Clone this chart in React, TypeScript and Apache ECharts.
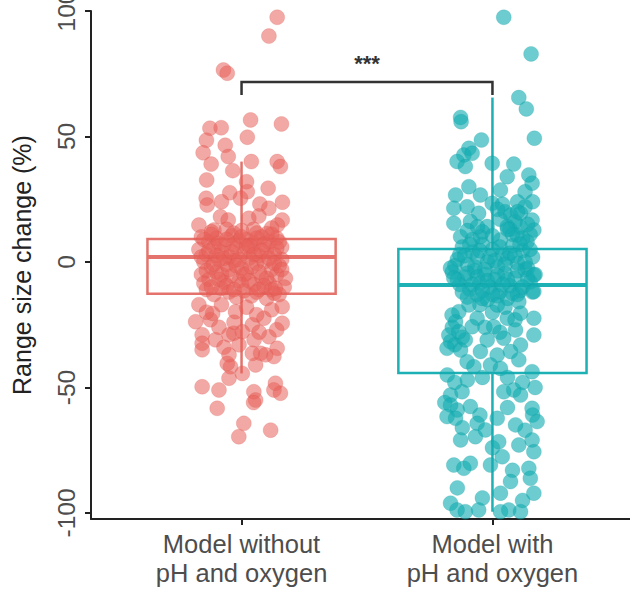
import React, { useEffect, useRef } from "react";
import * as echarts from "echarts";

const CATEGORY_LABELS = ["Model without\npH and oxygen", "Model with\npH and oxygen"];
const CATEGORY_X = [1, 2];
const Y_TICKS = [-100, -50, 0, 50, 100];

// box stats: [lower whisker, Q1, median, Q3, upper whisker]
const RED_BOX = [-44.4, -12.7, 2, 9.2, 40];
const TEAL_BOX = [-99.5, -44.2, -9.2, 5.2, 65.5];

// significance bracket: [x1, x2, top, drop]
const BRACKET = [1, 2, 71.7, 66.5];
const SIG_LABEL = "***";

// jittered points [x (jittered category position), value]
const RED_POINTS: [number, number][] = [
  [1.142, 97.5], [1.109, 90.0], [0.928, 76.5], [0.943, 75.2], [1.036, 56.6], [1.159, 55.0],
  [0.874, 53.3], [0.919, 53.5], [0.860, 48.5], [1.023, 49.7], [0.935, 46.5], [0.847, 43.5],
  [0.947, 42.0], [0.879, 39.0], [1.039, 40.0], [1.142, 40.0], [1.155, 38.0], [0.965, 36.4],
  [0.861, 32.7], [1.020, 32.0], [1.106, 29.4], [1.023, 28.0], [0.953, 27.6], [0.859, 25.4],
  [1.163, 23.8], [0.863, 22.7], [0.920, 24.0], [0.996, 25.4], [1.073, 23.1], [1.109, 21.4],
  [0.916, 18.0], [1.029, 17.4], [0.947, 16.7], [1.069, 18.3], [1.162, 16.7], [0.830, 14.7],
  [1.143, 14.7], [0.890, 12.7], [1.048, 13.0], [0.968, 11.5], [1.102, 11.4],
  [0.84, 10], [0.87, 8], [0.90, 9.5], [0.93, 7], [0.96, 10.5], [0.99, 8.5], [1.02, 9], [1.05, 7.5],
  [1.08, 10], [1.11, 8], [1.14, 9.5], [1.16, 6], [0.83, 5], [0.86, 3], [0.89, 6], [0.92, 4],
  [0.95, 2], [0.98, 5.5], [1.01, 3.5], [1.04, 6], [1.07, 2.5], [1.10, 5], [1.13, 3], [1.16, 1],
  [0.85, 0], [0.88, -2], [0.91, 1], [0.94, -1], [0.97, 0.5], [1.00, -2.5], [1.03, 1.5], [1.06, -0.5],
  [1.09, 0], [1.12, -3], [1.15, -1.5], [0.84, -5], [0.87, -7], [0.90, -4], [0.93, -8], [0.96, -5.5],
  [0.99, -7.5], [1.02, -4.5], [1.05, -9], [1.08, -6], [1.11, -8.5], [1.14, -5], [0.86, -11],
  [0.89, -13], [0.92, -10.5], [0.95, -12], [0.98, -14], [1.01, -11.5], [1.04, -13.5], [1.07, -11],
  [1.10, -14.5], [1.13, -12.5], [1.17, -10], [0.88, 12], [0.94, 13], [1.00, 12.5], [1.06, 11.5],
  [1.12, 13.5],
  [0.85, 9], [0.88, 11], [0.91, 7.5], [0.94, 9], [0.97, 7], [1.00, 10], [1.03, 6.5], [1.06, 9.5],
  [1.09, 7], [1.12, 11], [1.15, 8], [0.84, 2], [0.87, 4.5], [0.90, 2.5], [0.93, 1.5], [0.96, 4],
  [0.99, 1], [1.02, 6], [1.05, 3], [1.08, 4.5], [1.11, 1.5], [1.14, 5.5], [0.86, -3.5], [0.89, -1],
  [0.92, -5], [0.95, -3], [0.98, -1.5], [1.01, -5], [1.04, -2], [1.07, -4], [1.10, -6.5], [1.13, -0.5],
  [1.16, -3], [0.85, -8.5], [0.88, -10], [0.91, -7], [0.94, -9.5], [0.97, -11], [1.00, -9],
  [1.03, -7.5], [1.06, -12], [1.09, -9.5], [1.12, -11], [1.15, -13],
  [0.830, -17.0], [1.175, -6.5], [1.162, -17.8], [0.876, -23.0], [0.976, -19.8], [1.089, -22.4],
  [1.162, -24.4], [1.043, -25.0], [0.843, -29.0], [0.950, -29.0], [1.109, -29.8], [1.003, -27.8],
  [0.896, -31.0], [0.817, -23.8], [1.135, -10.5], [0.885, -20.5], [0.843, -32.4], [0.969, -28.4],
  [0.92, -17], [1.02, -18], [1.12, -19], [0.86, -20], [1.06, -21], [0.97, -24], [1.14, -27],
  [0.91, -26], [1.07, -28], [0.99, -33], [1.05, -31], [0.93, -34],
  [1.142, -34.4], [1.076, -36.4], [1.129, -37.7], [0.950, -37.0], [0.956, -41.7], [1.003, -44.4],
  [1.056, -41.0], [0.950, -46.3], [0.843, -49.7], [0.910, -51.0], [1.049, -51.7], [1.056, -55.0],
  [1.135, -48.3], [1.155, -52.3], [0.903, -58.3], [1.009, -64.3], [0.989, -69.6], [1.116, -67.0],
  [1.048, -56.0], [1.129, -51.0], [0.843, -35.0], [1.096, -37.0], [1.043, -36.4], [0.943, -40.4],
];

const TEAL_POINTS: [number, number][] = [
  [2.045, 97.5], [2.154, 82.9], [2.105, 65.5], [2.135, 61.0], [1.873, 57.6], [1.875, 55.9],
  [2.167, 49.3], [1.956, 48.6], [1.906, 45.3], [1.886, 42.6], [1.919, 43.3], [1.859, 40.0],
  [1.892, 38.0], [1.999, 39.3], [2.085, 39.0], [2.145, 34.7], [2.158, 31.4], [2.059, 34.0],
  [2.032, 28.7], [1.906, 30.0], [1.853, 26.7], [1.952, 26.7], [1.999, 23.4], [1.846, 21.4],
  [1.899, 22.0], [1.945, 19.4], [1.846, 15.4], [1.912, 16.1], [1.979, 14.1], [2.072, 18.7],
  [2.112, 19.4], [2.158, 16.7], [2.059, 14.1], [2.165, 12.7], [1.873, 10.1], [2.098, 10.8],
  [1.952, 10.1], [2.032, 8.8], [2.138, 8.1],
  [2.05, 20], [2.09, 16], [2.13, 22], [2.03, 17], [2.07, 13], [2.11, 14], [2.15, 11], [2.04, 23], [2.10, 24],
  [1.88, 6], [1.92, 4], [1.96, 7], [2.00, 5], [2.04, 3], [2.08, 6.5], [2.12, 4.5], [2.16, 2],
  [1.86, 1], [1.90, -1], [1.94, 2], [1.98, 0], [2.02, -2], [2.06, 1.5], [2.10, -0.5], [2.14, -2.5],
  [1.84, -4], [1.89, -6], [1.93, -3.5], [1.97, -5], [2.01, -7], [2.05, -4.5], [2.09, -6.5], [2.13, -3],
  [2.17, -5], [1.87, -9], [1.91, -11], [1.95, -8.5], [1.99, -10], [2.03, -12], [2.07, -9.5],
  [2.11, -11.5], [2.15, -8], [1.90, -14], [1.94, -13], [1.98, -15], [2.02, -13.5], [2.06, -14.5],
  [2.10, -13], [1.92, 9], [2.00, 10.5], [2.08, 11], [2.12, 9.5], [1.96, 12],
  [1.87, 3], [1.91, 7], [1.95, 4.5], [1.99, 2], [2.03, 6], [2.07, 3.5], [2.11, 7], [2.15, 5],
  [1.85, -1.5], [1.89, 2.5], [1.93, -2], [1.97, -3], [2.01, 0.5], [2.05, -1], [2.09, 2.5], [2.13, 0],
  [1.86, -7], [1.90, -4.5], [1.94, -6], [1.98, -7.5], [2.02, -5.5], [2.06, -7], [2.10, -3.5], [2.14, -6.5],
  [1.88, -12], [1.92, -9], [1.96, -11.5], [2.00, -13], [2.04, -9], [2.08, -12.5], [2.12, -10], [2.16, -12],
  [1.95, -17], [2.00, -20], [2.05, -18], [2.09, -23], [1.97, -26], [2.03, -28], [1.84, -26], [1.85, -33],
  [1.88, -30], [2.06, 13], [2.10, 20], [2.14, 15], [2.02, 21], [1.94, 14], [1.90, 12.5], [2.13, 28], [2.16, 24],
  [1.833, -2.4], [1.846, -6.4], [2.165, -5.2],
  [1.959, -14.5], [2.019, -17.1], [2.105, -15.8], [2.165, -11.8], [1.906, -17.1], [1.866, -19.8],
  [1.853, -23.8], [1.939, -22.4], [2.059, -22.4], [2.112, -20.4], [2.165, -22.4], [1.919, -25.8],
  [2.005, -25.8], [2.092, -27.1], [2.165, -29.1], [1.826, -29.1], [1.833, -31.8], [1.892, -31.1],
  [1.979, -31.1], [2.045, -30.4], [2.112, -33.1], [1.819, -34.4], [1.873, -35.1], [1.952, -35.7],
  [2.019, -37.1], [2.072, -35.7], [2.105, -39.0], [1.899, -39.7], [1.926, -41.7], [1.992, -41.0],
  [2.032, -42.4], [2.158, -43.7], [1.839, -21.1], [1.866, -27.8],
  [1.82, -45], [1.85, -48], [1.90, -47], [1.96, -46], [2.06, -46], [2.12, -48], [2.17, -50],
  [1.81, -56], [1.86, -59], [2.16, -61], [2.13, -67], [1.95, -61], [2.06, -58], [1.88, -66],
  [2.00, -74], [1.86, -90], [2.12, -95], [1.96, -94], [2.08, -83],
  [1.833, -53.0], [1.833, -57.0], [1.879, -51.7], [1.912, -57.6], [1.819, -61.6], [1.853, -62.3],
  [1.939, -64.3], [1.932, -69.6], [1.873, -70.9], [1.972, -66.9], [2.019, -62.3], [2.045, -51.7],
  [2.085, -51.0], [2.112, -53.0], [2.092, -64.9], [2.105, -72.9], [2.158, -58.3], [2.178, -63.6],
  [2.158, -70.9], [2.165, -75.6], [2.025, -71.6], [1.846, -80.9], [1.886, -82.2], [1.912, -80.2],
  [1.992, -80.9], [2.039, -77.6], [2.145, -82.2], [2.151, -86.2], [2.072, -87.5], [2.165, -92.1],
  [2.032, -92.1], [1.833, -96.1], [1.859, -98.8], [1.945, -98.8], [2.065, -98.8], [2.112, -99.5],
  [2.032, -99.5], [1.892, -99.5],
];

const RED = "#E8605A";
const TEAL = "#14ACB2";
const RED_BOX_COLOR = "#E3736C";
const TEAL_BOX_COLOR = "#1DB0B5";
const FONT = "'Liberation Sans', Arial, sans-serif";

export default function App() {
  const ref = useRef<HTMLDivElement>(null);
  useEffect(() => {
    document.body.style.margin = "0";
    if (!ref.current) return;
    const chart = echarts.init(ref.current, null, { renderer: "svg" });
    const boxColors = [RED_BOX_COLOR, TEAL_BOX_COLOR];
    const half = 0.375;
    chart.setOption({
      animation: false,
      backgroundColor: "#ffffff",
      grid: { left: 91, top: 11, width: 552, height: 508, containLabel: false, outerBoundsMode: "none" },
      xAxis: {
        type: "value",
        min: 0.4,
        max: 2.6,
        splitLine: { show: false },
        axisLine: { show: true, onZero: false, lineStyle: { color: "#222", width: 2 } },
        axisTick: { show: true, customValues: CATEGORY_X, length: 6, lineStyle: { color: "#222", width: 2 } },
        axisLabel: {
          show: true,
          customValues: CATEGORY_X,
          formatter: (v: number) => CATEGORY_LABELS[Math.round(v) - 1] ?? "",
          fontSize: 25.5,
          lineHeight: 29,
          color: "#4D4D4D",
          fontFamily: FONT,
          margin: 10,
        },
      },
      yAxis: {
        type: "value",
        min: -102.4,
        max: 100,
        splitLine: { show: false },
        axisLine: { show: true, onZero: false, lineStyle: { color: "#222", width: 2 } },
        axisTick: { show: true, customValues: Y_TICKS, length: 6, lineStyle: { color: "#222", width: 2 } },
        axisLabel: {
          show: true,
          customValues: Y_TICKS,
          rotate: 90,
          fontSize: 24.5,
          color: "#4D4D4D",
          fontFamily: FONT,
          margin: 12,
        },
        name: "Range size change (%)",
        nameLocation: "middle",
        nameGap: 57,
        nameRotate: 90,
        nameTextStyle: { fontSize: 25, color: "#222", fontFamily: FONT },
      },
      series: [
        {
          type: "custom",
          z: 1,
          encode: { x: 0, y: [1, 2, 3, 4, 5] },
          data: [
            [CATEGORY_X[0], ...RED_BOX],
            [CATEGORY_X[1], ...TEAL_BOX],
          ],
          renderItem: (params: any, api: any) => {
            const x = api.value(0);
            const lo = api.value(1), q1 = api.value(2), med = api.value(3), q3 = api.value(4), hi = api.value(5);
            const pTL = api.coord([x - half, q3]);
            const pBR = api.coord([x + half, q1]);
            const pMed = api.coord([x, med]);
            const pHi = api.coord([x, hi]);
            const pLo = api.coord([x, lo]);
            const color = boxColors[params.dataIndex];
            return {
              type: "group",
              children: [
                { type: "line", shape: { x1: pHi[0], y1: pHi[1], x2: pHi[0], y2: pTL[1] }, style: { stroke: color, lineWidth: 2.5 } },
                { type: "line", shape: { x1: pLo[0], y1: pBR[1], x2: pLo[0], y2: pLo[1] }, style: { stroke: color, lineWidth: 2.5 } },
                {
                  type: "rect",
                  shape: { x: pTL[0], y: pTL[1], width: pBR[0] - pTL[0], height: pBR[1] - pTL[1] },
                  style: { fill: "none", stroke: color, lineWidth: 2.5 },
                },
                { type: "line", shape: { x1: pTL[0], y1: pMed[1], x2: pBR[0], y2: pMed[1] }, style: { stroke: color, lineWidth: 4 } },
              ],
            };
          },
        },
        {
          type: "scatter",
          z: 2,
          symbolSize: 15,
          data: RED_POINTS,
          itemStyle: { color: RED, opacity: 0.55, borderColor: "rgba(215,80,75,0.35)", borderWidth: 1 },
        },
        {
          type: "scatter",
          z: 2,
          symbolSize: 15,
          data: TEAL_POINTS,
          itemStyle: { color: TEAL, opacity: 0.62, borderColor: "rgba(10,150,155,0.3)", borderWidth: 1 },
        },
        {
          type: "custom",
          z: 3,
          encode: { x: [0, 1], y: [2, 3] },
          data: [BRACKET],
          renderItem: (_params: any, api: any) => {
            const x1 = api.value(0), x2 = api.value(1), top = api.value(2), drop = api.value(3);
            const a = api.coord([x1, drop]);
            const b = api.coord([x1, top]);
            const c = api.coord([x2, top]);
            const d = api.coord([x2, drop]);
            const m = api.coord([(x1 + x2) / 2, top]);
            return {
              type: "group",
              children: [
                { type: "polyline", shape: { points: [a, b, c, d] }, style: { stroke: "#333", lineWidth: 2.5, fill: "none" } },
                {
                  type: "text",
                  x: m[0],
                  y: m[1] - 8,
                  style: {
                    text: SIG_LABEL,
                    fill: "#333",
                    font: `bold 22px ${FONT}`,
                    textAlign: "center",
                    textVerticalAlign: "bottom",
                  },
                },
              ],
            };
          },
        },
      ],
    });
    return () => chart.dispose();
  }, []);
  return <div ref={ref} style={{ width: 630, height: 589 }} />;
}
